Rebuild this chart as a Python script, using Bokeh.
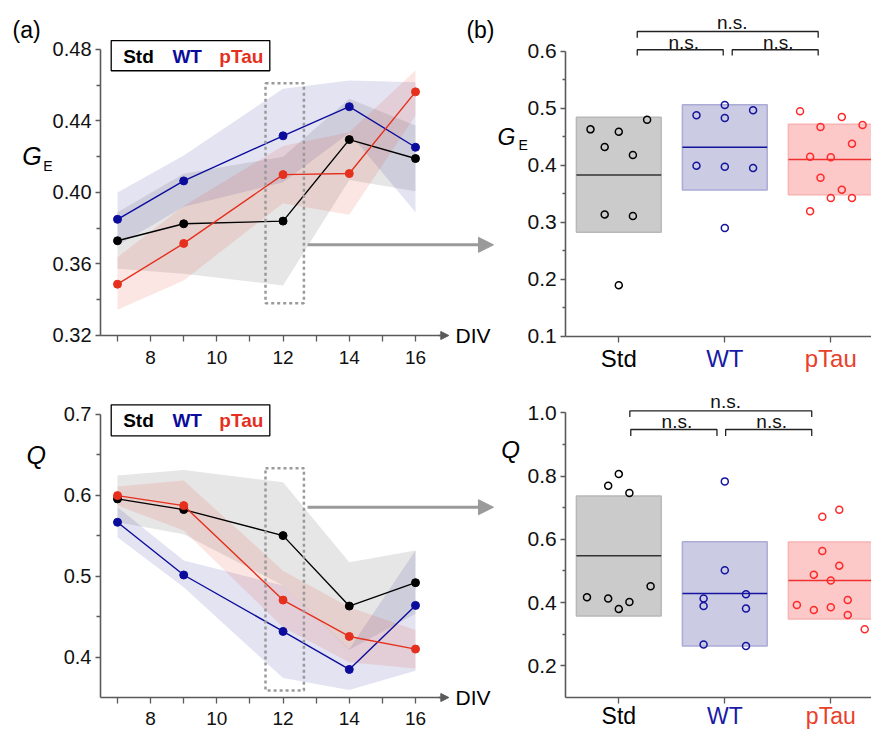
from bokeh.plotting import figure
from bokeh.layouts import column, row
from bokeh.models import (Range1d, FixedTicker, NumeralTickFormatter, Label, Arrow, NormalHead,
                          CustomJSTickFormatter)
from bokeh.core.properties import value
from bokeh.embed import file_html
from bokeh.resources import INLINE

FONT = "Liberation Sans"

# ---------------- data: time courses (DIV) ----------------
div = [7, 9, 12, 14, 16]

ge_std = [0.373, 0.3825, 0.384, 0.4296, 0.419]
ge_std_lo = [0.3573, 0.3545, 0.348, 0.407, 0.4007]
ge_std_hi = [0.389, 0.4105, 0.420, 0.4524, 0.4375]
ge_wt = [0.385, 0.4065, 0.4317, 0.448, 0.4253]
ge_wt_lo = [0.3703, 0.392, 0.4057, 0.4333, 0.389]
ge_wt_hi = [0.400, 0.4207, 0.458, 0.4627, 0.4617]
ge_ptau = [0.3487, 0.3715, 0.410, 0.4106, 0.4563]
ge_ptau_lo = [0.3344, 0.3508, 0.394, 0.3875, 0.4431]
ge_ptau_hi = [0.3638, 0.3925, 0.426, 0.4337, 0.4683]

q_std = [0.5956, 0.5824, 0.5502, 0.4631, 0.492]
q_std_lo = [0.5666, 0.552, 0.4884, 0.409, 0.4535]
q_std_hi = [0.6245, 0.6315, 0.6162, 0.5172, 0.5317]
q_wt = [0.5667, 0.5015, 0.4317, 0.3847, 0.4639]
q_wt_lo = [0.5482, 0.4863, 0.3741, 0.3592, 0.3832]
q_wt_hi = [0.5853, 0.5193, 0.4884, 0.41, 0.5317]
q_ptau = [0.5997, 0.5873, 0.4705, 0.4255, 0.4099]
q_ptau_lo = [0.5874, 0.5564, 0.4368, 0.3935, 0.386]
q_ptau_hi = [0.6109, 0.6183, 0.5069, 0.4615, 0.4335]

# ---------------- data: DIV 12 group comparison ----------------
groups = ["Std", "WT", "pTau"]

ge_box_lo = [0.2825, 0.3567, 0.3484]
ge_box_hi = [0.4842, 0.5063, 0.472]
ge_box_med = [0.383, 0.4316, 0.41]
ge_pts_std = [0.463, 0.432, 0.459, 0.418, 0.480, 0.314, 0.311, 0.190]
ge_jit_std = [-0.267, -0.133, 0.0, 0.133, 0.267, -0.133, 0.133, 0.0]
ge_pts_wt = [0.4877, 0.5058, 0.483, 0.4965, 0.3994, 0.3977, 0.3953, 0.29]
ge_jit_wt = [-0.267, 0.0, 0.0, 0.267, -0.267, 0.0, 0.267, 0.0]
ge_pts_ptau = [0.4947, 0.4673, 0.4848, 0.4708, 0.438, 0.4152, 0.414, 0.3784,
               0.3573, 0.3427, 0.3427, 0.3193]
ge_jit_ptau = [-0.29, -0.097, 0.104, 0.3, 0.2, -0.195, 0.0, -0.097, 0.104, 0.0, 0.2, -0.195]

q_box_lo = [0.358, 0.263, 0.3484]
q_box_hi = [0.7368, 0.5926, 0.5916]
q_box_med = [0.548, 0.4284, 0.4695]
q_pts_std = [0.4168, 0.7695, 0.8063, 0.7463, 0.4126, 0.38, 0.4021, 0.4516]
q_jit_std = [-0.3, -0.1, 0.0, 0.1, -0.1, 0.0, 0.1, 0.3]
q_pts_wt = [0.4126, 0.3895, 0.7832, 0.5021, 0.4263, 0.381, 0.2674, 0.263]
q_jit_wt = [-0.2, -0.2, 0.0, 0.0, 0.2, 0.2, -0.2, 0.2]
q_pts_ptau = [0.6716, 0.6937, 0.5632, 0.5168, 0.4884, 0.4695, 0.3926, 0.3768,
              0.3853, 0.4084, 0.361, 0.3158]
q_jit_ptau = [-0.08, 0.08, -0.08, 0.08, -0.16, 0.0, -0.32, -0.16, 0.0, 0.16, 0.16, 0.32]

# ---------------- styles ----------------
LINE_COL = ["#000000", "#0c0c9c", "#e5301e"]
BAND_COL = ["#808080", "#1a1a8c", "#e8402a"]
BAND_ALPHA = [0.2, 0.12, 0.13]
BOX_FILL = ["#cbcbcb", "#cbcbe4", "#fdc8c8"]
BOX_LINE = ["#b8b8b8", "#ababd6", "#f8b4b4"]
PT_COL = ["#000000", "#14149e", "#ff2a2a"]
MED_COL = ["#333333", "#14149e", "#f03030"]
LABEL_COL = ["#000000", "#1a1aa6", "#e8402a"]
AX_COL = "#5a5a5a"


def make_fig(w, h, xr, yr):
    p = figure(width=w, height=h, x_range=Range1d(*xr), y_range=Range1d(*yr),
               output_backend="svg", toolbar_location=None, title_location=None,
               min_border_left=0, min_border_right=0, min_border_top=0, min_border_bottom=0)
    p.outline_line_color = None
    p.xgrid.visible = False
    p.ygrid.visible = False
    p.background_fill_color = "white"
    p.border_fill_color = "white"
    for ax in (p.xaxis[0], p.yaxis[0]):
        ax.axis_line_color = AX_COL
        ax.axis_line_width = 1.6
        ax.major_tick_line_color = AX_COL
        ax.minor_tick_line_color = AX_COL
        ax.major_tick_line_width = 1.3
        ax.minor_tick_line_width = 1.3
        ax.major_tick_in = 0
        ax.minor_tick_in = 0
        ax.major_label_text_font = FONT
        ax.major_label_text_color = "#111111"
    return p


def add_label(p, x, y, text, size, color="#000000", style="normal",
              align="left", baseline="middle"):
    p.add_layout(Label(x=x, y=y, text=text, text_font=FONT, text_font_size=size,
                       text_color=color, text_font_style=style, text_align=align,
                       text_baseline=baseline))


def time_panel(h, yr, ybounds, yticks, yminor, fmt, xstandoff, series,
               legend_box, legend_y, dotted, arrow_y, ylab, ylab_sub, ylab_pos, panel_tag):
    x0_axis = 6.4866
    p = make_fig(495, h, (3.4663, 18.416), yr)
    xa, ya = p.xaxis[0], p.yaxis[0]
    xa.fixed_location = ybounds[0]
    ya.fixed_location = x0_axis
    xa.ticker = FixedTicker(ticks=[8, 10, 12, 14, 16], minor_ticks=[7, 9, 11, 13, 15])
    xa.bounds = (x0_axis, 16.76)
    xa.major_tick_out = 6
    xa.minor_tick_out = 6
    xa.major_label_text_font_size = "19px"
    xa.major_label_standoff = xstandoff
    ya.ticker = FixedTicker(ticks=yticks, minor_ticks=yminor)
    ya.bounds = ybounds
    ya.formatter = NumeralTickFormatter(format=fmt)
    ya.major_tick_out = 5
    ya.minor_tick_out = 4
    ya.major_label_text_font_size = "20px"
    ya.major_label_standoff = 4

    for k, (m, lo, hi) in enumerate(series):
        p.varea(x=div, y1=lo, y2=hi, fill_color=BAND_COL[k], fill_alpha=BAND_ALPHA[k])
    for k, (m, lo, hi) in enumerate(series):
        p.line(div, m, line_color=LINE_COL[k], line_width=1.4)
        p.scatter(div, m, size=8, fill_color=LINE_COL[k], line_color=LINE_COL[k])

    # x axis arrow head
    p.add_layout(Arrow(end=NormalHead(size=8, fill_color=AX_COL, line_color=AX_COL),
                       x_start=16.7, y_start=ybounds[0], x_end=17.006, y_end=ybounds[0],
                       line_color=AX_COL, line_width=1.6))
    add_label(p, 17.21, ybounds[0], "DIV", "21px")

    # legend box
    bx0, bx1, by0, by1 = legend_box
    p.quad(left=[bx0], right=[bx1], bottom=[by0], top=[by1], fill_color="white",
           line_color="#000000", line_width=1.3)
    for k, (name, xc) in enumerate(zip(groups, [7.634, 9.105, 10.74])):
        p.text(x=[xc], y=[legend_y], text=[name], text_font=value(FONT), text_font_size="19px",
               text_font_style="bold", text_color=LINE_COL[k], text_align="center",
               text_baseline="middle")

    # dotted selection box + arrow to the right panel
    dx0, dx1, dy0, dy1 = dotted
    p.quad(left=[dx0], right=[dx1], bottom=[dy0], top=[dy1], fill_color=None,
           line_color="#9a9a9a", line_width=2.5, line_dash="3 3")
    p.add_layout(Arrow(end=NormalHead(size=15, fill_color="#9a9a9a", line_color="#9a9a9a"),
                       x_start=12.74, y_start=arrow_y, x_end=18.355, y_end=arrow_y,
                       line_color="#9a9a9a", line_width=3))

    gx, gy, ex, ey = ylab_pos
    add_label(p, gx, gy, ylab, "25px", style="italic")
    if ylab_sub:
        add_label(p, ex, ey, ylab_sub, "14px")
    if panel_tag:
        add_label(p, 3.83, 0.49091, "(a)", "23px")
        add_label(p, 18.386, 0.49091, "(b)", "23px", align="right")
    return p


def group_panel(h, yr, ybounds, yticks, yminor, cat_y, box_lo, box_hi, box_med,
                pts, jits, brackets, ns, ylab, ylab_sub, ylab_pos, ylab_size, cat_size):
    p = make_fig(376, h, (-1.1632, 2.384), yr)
    xa, ya = p.xaxis[0], p.yaxis[0]
    xa.fixed_location = ybounds[0]
    ya.fixed_location = -0.5
    xa.bounds = (-0.5, 2.384)
    xa.ticker = FixedTicker(ticks=[0, 1, 2])
    xa.major_tick_out = 6
    xa.formatter = CustomJSTickFormatter(code="return ''")
    xa.major_label_text_font_size = "1px"
    ya.ticker = FixedTicker(ticks=yticks, minor_ticks=yminor)
    ya.bounds = ybounds
    ya.formatter = NumeralTickFormatter(format="0.0")
    ya.major_tick_out = 5
    ya.minor_tick_out = 3
    ya.major_label_text_font_size = "21px"
    ya.major_label_standoff = 4

    for i in range(3):
        p.quad(left=[i - 0.4], right=[i + 0.4], bottom=[box_lo[i]], top=[box_hi[i]],
               fill_color=BOX_FILL[i], line_color=BOX_LINE[i], line_width=1.5)
        p.segment(x0=[i - 0.4], x1=[i + 0.4], y0=[box_med[i]], y1=[box_med[i]],
                  line_color=MED_COL[i], line_width=1.5)
    for i in range(3):
        xs = [i + j for j in jits[i]]
        p.scatter(xs, pts[i], size=7, fill_color=None, line_color=PT_COL[i], line_width=1.5)

    xs_b = [[a, a, b, b] for (a, b, t, l) in brackets]
    ys_b = [[l, t, t, l] for (a, b, t, l) in brackets]
    p.multi_line(xs_b, ys_b, line_color="#222222", line_width=1.3)
    p.text(x=[n[0] for n in ns], y=[n[1] for n in ns], text=["n.s."] * len(ns),
           text_font=value(FONT), text_font_size="19px", text_color="#111111",
           text_align="center", text_baseline="middle")

    for i, name in enumerate(groups):
        add_label(p, i, cat_y, name, cat_size, color=LABEL_COL[i], align="center")
    gx, gy, ex, ey = ylab_pos
    add_label(p, gx, gy, ylab, ylab_size, style="italic")
    if ylab_sub:
        add_label(p, ex, ey, ylab_sub, "14px")
    return p


p1 = time_panel(
    375, (0.29762, 0.50741), (0.32, 0.48), [0.32, 0.36, 0.40, 0.44, 0.48],
    [0.34, 0.38, 0.42, 0.46], "0.00", 10,
    [(ge_std, ge_std_lo, ge_std_hi), (ge_wt, ge_wt_lo, ge_wt_hi),
     (ge_ptau, ge_ptau_lo, ge_ptau_hi)],
    (6.81, 11.60, 0.4681, 0.4850), 0.47636,
    (11.47, 12.63, 0.3381, 0.4611), 0.3707,
    "G", "E", (4.12, 0.42025, 4.756, 0.41466), True)

p3 = time_panel(
    354, (0.31043, 0.74822), (0.35, 0.70), [0.4, 0.5, 0.6, 0.7],
    [0.45, 0.55, 0.65], "0.0", 8,
    [(q_std, q_std_lo, q_std_hi), (q_wt, q_wt_lo, q_wt_hi),
     (q_ptau, q_ptau_lo, q_ptau_hi)],
    (6.81, 11.60, 0.6736, 0.712), 0.69219,
    (11.47, 12.63, 0.3587, 0.6336), 0.58534,
    "Q", None, (4.25, 0.65052, 0, 0), False)

p2 = group_panel(
    375, (0.03165, 0.68885), (0.1, 0.6), [0.1, 0.2, 0.3, 0.4, 0.5, 0.6],
    [0.15, 0.25, 0.35, 0.45, 0.55], 0.06144,
    ge_box_lo, ge_box_hi, ge_box_med,
    [ge_pts_std, ge_pts_wt, ge_pts_ptau], [ge_jit_std, ge_jit_wt, ge_jit_ptau],
    [(0.174, 1.881, 0.6345, 0.6235), (0.174, 0.985, 0.6025, 0.5925),
     (1.07, 1.881, 0.6025, 0.5925)],
    [(1.07, 0.65082), (0.613, 0.61577), (1.504, 0.61577)],
    "G", "E", (-1.1443, 0.44928, -0.9462, 0.43474), "23px", "24px")

p4 = group_panel(
    354, (-0.00116, 1.11791), (0.1, 1.0), [0.2, 0.4, 0.6, 0.8, 1.0],
    [0.3, 0.5, 0.7, 0.9], 0.04151,
    q_box_lo, q_box_hi, q_box_med,
    [q_pts_std, q_pts_wt, q_pts_ptau], [q_jit_std, q_jit_wt, q_jit_ptau],
    [(0.104, 1.820, 1.006, 0.987), (0.113, 0.926, 0.9472, 0.9269),
     (1.008, 1.820, 0.9472, 0.9269)],
    [(1.008, 1.03677), (0.548, 0.97355), (1.442, 0.97355)],
    "Q", None, (-1.110, 0.885, 0, 0), "24px", "23px")

layout = column(row(p1, p2), row(p3, p4))
open("out.html", "w").write(file_html(layout, INLINE))
